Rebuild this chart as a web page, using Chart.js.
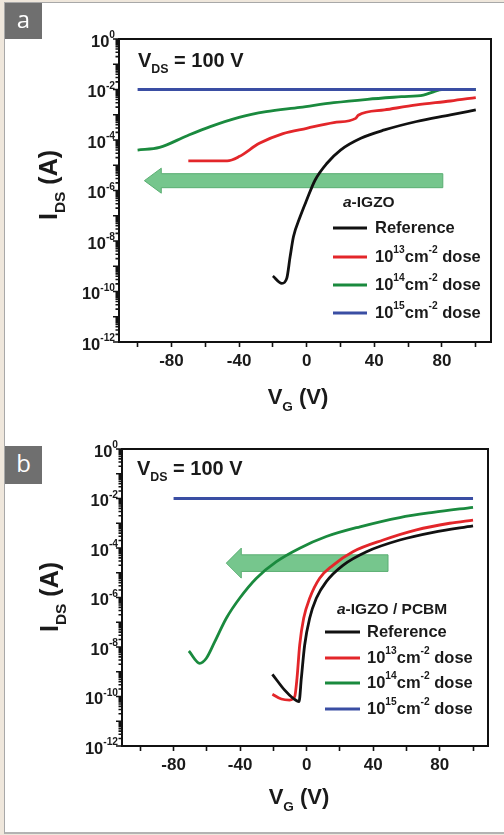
<!DOCTYPE html>
<html>
<head>
<meta charset="utf-8">
<script src="https://cdn.jsdelivr.net/npm/chart.js@4.4.0/dist/chart.umd.min.js"></script>
<style>
  html, body { margin: 0; padding: 0; }
  body { width: 504px; height: 835px; background: #efe7dc; position: relative; overflow: hidden; }
  .card { position: absolute; left: 4px; top: 2px; width: 520px; height: 829px; background: #fff;
          border-top: 1px solid #a8a8a8; border-left: 1px solid #a8a8a8; border-bottom: 2px solid #b3b3b3; }
  .tag { position: absolute; left: 5px; width: 37px; background: #6f6f6f; color: #fff; z-index: 5;
         font-family: "Open Sans", sans-serif; font-size: 24px; text-align: center; }
  canvas { position: absolute; left: 0; }
</style>
</head>
<body>
<div class="card"></div>
<canvas id="panelA" width="504" height="415" style="top:0px"></canvas>
<canvas id="panelB" width="504" height="420" style="top:415px"></canvas>
<div class="tag" style="top:3px;height:36px;line-height:32px;">a</div>
<div class="tag" style="top:446px;height:38px;line-height:34px;">b</div>
<script>
// axis ticks
const vgTickValues = [-100, -80, -60, -40, -20, 0, 20, 40, 60, 80, 100];
const vgLabelled = [-80, -40, 0, 40, 80];
const idsLabelExps = [0, -2, -4, -6, -8, -10, -12];
const doseExps = ['13', '14', '15'];

// panel a : a-IGZO
const aRefVg = [-20, -14.7, -11.8, -9.8, -7.8, -3.9, 0, 5, 12, 20, 32, 46, 65, 85, 100];
const aRefIds = [4.1e-10, 2.1e-10, 3.3e-10, 2.4e-9, 1.5e-8, 9.1e-8, 4.2e-7, 2.6e-6, 1.2e-5, 4.0e-5, 1.17e-4, 2.5e-4, 5.4e-4, 9.8e-4, 1.55e-3];
const aD13Vg = [-70, -47, -40, -28, -14, 0, 16, 29, 30.5, 46, 65, 85, 100];
const aD13Ids = [1.5e-5, 1.5e-5, 2.2e-5, 7.4e-5, 1.8e-4, 2.9e-4, 4.9e-4, 7.2e-4, 9.5e-4, 1.55e-3, 2.45e-3, 3.5e-3, 4.8e-3];
const aD14Vg = [-100, -87, -71, -57, -40, -24, -4, 16, 36, 56, 69, 75, 80, 100];
const aD14Ids = [4.0e-5, 5.1e-5, 1.45e-4, 3.4e-4, 7.9e-4, 1.32e-3, 1.95e-3, 3.0e-3, 4.1e-3, 5.2e-3, 6.0e-3, 8.1e-3, 1.0e-2, 1.0e-2];
const aD15Vg = [-100, 100];
const aD15Ids = [1e-2, 1e-2];

// panel b : a-IGZO / PCBM
const bRefVg = [-20.6, -13.2, -8.2, -4.6, -3.2, -1.2, 1.8, 5.8, 11.8, 21.8, 36, 56, 76, 100];
const bRefIds = [7.9e-10, 1.8e-10, 8.5e-11, 6.2e-11, 5.5e-10, 1.2e-8, 1.45e-7, 9.3e-7, 4.4e-6, 2.0e-5, 7.1e-5, 2.1e-4, 4.3e-4, 7.8e-4];
const bD13Vg = [-20.6, -15.2, -10.2, -7.2, -5.8, -4.2, -1.8, 1.8, 7.8, 15.8, 27.8, 46, 66, 86, 100];
const bD13Ids = [1.23e-10, 7.9e-11, 7.2e-11, 9.8e-11, 5.5e-10, 1.2e-8, 1.45e-7, 9.3e-7, 6.0e-6, 2.0e-5, 7.1e-5, 2.1e-4, 5.4e-4, 1.0e-3, 1.35e-3];
const bD14Vg = [-70.8, -64.3, -60.3, -55.3, -48.3, -40.3, -30.2, -18.2, -4.2, 11.8, 32, 56, 76, 100];
const bD14Ids = [6.9e-9, 2.2e-9, 3.5e-9, 1.6e-8, 1.45e-7, 9.3e-7, 6.0e-6, 2.8e-5, 9.8e-5, 2.9e-4, 7.2e-4, 1.7e-3, 2.75e-3, 4.4e-3];
const bD15Vg = [-80, 100];
const bD15Ids = [1e-2, 1e-2];

const FONT = '"Liberation Sans", Arial, sans-serif';
const INK = '#1a1a1a';
const colors = ['#111111', '#e3262a', '#1a8a3e', '#3a4ea3'];

function pts(xs, ys) {
  return xs.map((x, i) => ({ x: x, y: ys[i] }));
}

// text with super/subscripts, y is the middle of the main text
function drawRich(ctx, x, y, segs, size, measureOnly) {
  let cx = x;
  segs.forEach(s => {
    const small = s.sup || s.sub;
    const fs = small ? size * 0.62 : size;
    ctx.font = (s.italic ? 'italic ' : '') + 'bold ' + fs + 'px ' + FONT;
    const dy = s.sup ? -size * 0.4 : s.sub ? size * 0.42 : 0;
    if (!measureOnly) ctx.fillText(s.t, cx, y + dy);
    cx += ctx.measureText(s.t).width;
  });
  return cx - x;
}

function decor(o) {
  return {
    id: 'decor',
    beforeDatasetsDraw(chart) {
      const { ctx, scales: { x, y } } = chart;
      const a = o.arrow;
      const xt = x.getPixelForValue(a.tip), xn = x.getPixelForValue(a.neck), xe = x.getPixelForValue(a.tail);
      const yc = y.getPixelForValue(a.level);
      ctx.save();
      ctx.beginPath();
      ctx.moveTo(xt, yc);
      ctx.lineTo(xn, yc - a.head);
      ctx.lineTo(xn, yc - a.body);
      ctx.lineTo(xe, yc - a.body);
      ctx.lineTo(xe, yc + a.body);
      ctx.lineTo(xn, yc + a.body);
      ctx.lineTo(xn, yc + a.head);
      ctx.closePath();
      ctx.fillStyle = '#76c68d';
      ctx.fill();
      ctx.strokeStyle = '#5aae72';
      ctx.lineWidth = 1;
      ctx.stroke();
      ctx.restore();
    },
    afterDraw(chart) {
      const { ctx, chartArea: ca, scales: { y } } = chart;
      ctx.save();
      ctx.strokeStyle = '#111';
      ctx.lineWidth = 2;
      ctx.strokeRect(ca.left, ca.top, ca.right - ca.left, ca.bottom - ca.top);

      // log ticks on the left axis
      ctx.lineWidth = 1.6;
      ctx.beginPath();
      for (let e = 0; e >= -12; e--) {
        const py = y.getPixelForValue(Math.pow(10, e));
        ctx.moveTo(ca.left - 6, py); ctx.lineTo(ca.left, py);
        if (e > -12) {
          for (let m = 2; m < 10; m++) {
            const pm = y.getPixelForValue(m * Math.pow(10, e - 1));
            ctx.moveTo(ca.left - 3.5, pm); ctx.lineTo(ca.left, pm);
          }
        }
      }
      ctx.stroke();

      ctx.fillStyle = INK;
      ctx.textBaseline = 'middle';
      ctx.textAlign = 'left';
      idsLabelExps.forEach(e => {
        const py = y.getPixelForValue(Math.pow(10, e)) + 3;
        const segs = [{ t: '10' }, { t: String(e), sup: true }];
        const w = drawRich(ctx, 0, 0, segs, 16.5, true);
        drawRich(ctx, ca.left - 4 - w, py, segs, 16.5);
      });

      // axis titles
      const xt = [{ t: 'V' }, { t: 'G', sub: true }, { t: ' (V)' }];
      const xw = drawRich(ctx, 0, 0, xt, 22, true);
      drawRich(ctx, o.xTitle.x - xw / 2, o.xTitle.y, xt, 22);

      const yt = [{ t: 'I' }, { t: 'DS', sub: true }, { t: ' (A)' }];
      const yw = drawRich(ctx, 0, 0, yt, 25, true);
      ctx.save();
      ctx.translate(o.yTitle.x, o.yTitle.y);
      ctx.rotate(-Math.PI / 2);
      drawRich(ctx, -yw / 2, 0, yt, 25);
      ctx.restore();

      drawRich(ctx, o.vds.x, o.vds.y, [{ t: 'V' }, { t: 'DS', sub: true }, { t: ' = 100 V' }], 20);

      // legend
      const L = o.legend;
      drawRich(ctx, L.titleX, L.titleY, L.title, 15.5);
      chart.data.datasets.forEach((ds, i) => {
        const ry = L.rows[i];
        ctx.strokeStyle = ds.borderColor;
        ctx.lineWidth = 3;
        ctx.beginPath();
        ctx.moveTo(L.x0, ry); ctx.lineTo(L.x1, ry);
        ctx.stroke();
        drawRich(ctx, L.textX, ry, ds.legendSegs, 16.5);
      });
      ctx.restore();
    }
  };
}

function legendSegs(i) {
  if (i === 0) return [{ t: 'Reference' }];
  return [{ t: '10' }, { t: doseExps[i - 1], sup: true }, { t: 'cm' }, { t: '-2', sup: true }, { t: ' dose' }];
}

function makePanel(id, series, o) {
  const names = ['Reference', '10^13 cm^-2 dose', '10^14 cm^-2 dose', '10^15 cm^-2 dose'];
  return new Chart(document.getElementById(id), {
    type: 'line',
    data: {
      datasets: series.map((s, i) => ({
        label: names[i],
        legendSegs: legendSegs(i),
        data: pts(s[0], s[1]),
        borderColor: colors[i],
        borderWidth: 2.8,
        pointRadius: 0,
        fill: false,
        cubicInterpolationMode: 'monotone',
        order: i === 3 ? -1 : i
      }))
    },
    options: {
      responsive: false,
      animation: false,
      layout: { padding: o.pad },
      plugins: { legend: { display: false }, tooltip: { enabled: false } },
      scales: {
        x: {
          type: 'linear', min: -111, max: 109,
          afterBuildTicks: s => { s.ticks = vgTickValues.map(v => ({ value: v })); },
          afterFit: s => { s.height = o.xAxisH; },
          grid: { drawOnChartArea: false, drawTicks: true, tickLength: 5, tickWidth: 1.6, tickColor: '#111' },
          border: { display: true, color: '#111', width: 2 },
          ticks: {
            autoSkip: false, maxRotation: 0, padding: 4, color: INK,
            font: { family: FONT, size: 17, weight: 'bold' },
            callback: v => vgLabelled.includes(v) ? String(v) : ''
          }
        },
        y: { type: 'logarithmic', min: 1e-12, max: 1, display: false }
      }
    },
    plugins: [decor(o)]
  });
}

makePanel('panelA',
  [[aRefVg, aRefIds], [aD13Vg, aD13Ids], [aD14Vg, aD14Ids], [aD15Vg, aD15Ids]],
  {
    pad: { left: 119, right: 13, top: 39, bottom: 0 }, xAxisH: 73,
    arrow: { tip: -96, neck: -86, tail: 80.5, level: 2.45e-6, head: 12.5, body: 7 },
    xTitle: { x: 298, y: 398 }, yTitle: { x: 50, y: 185 }, vds: { x: 138, y: 61 },
    legend: { title: [{ t: 'a', italic: true }, { t: '-IGZO' }], titleX: 343, titleY: 203,
              x0: 333, x1: 367, textX: 375, rows: [228, 257, 285, 313] }
  });

makePanel('panelB',
  [[bRefVg, bRefIds], [bD13Vg, bD13Ids], [bD14Vg, bD14Ids], [bD15Vg, bD15Ids]],
  {
    pad: { left: 122, right: 16, top: 34, bottom: 0 }, xAxisH: 89,
    arrow: { tip: -48.3, neck: -39.3, tail: 48.9, level: 2.45e-5, head: 15, body: 8.3 },
    xTitle: { x: 299, y: 383 }, yTitle: { x: 51, y: 182 }, vds: { x: 137, y: 54 },
    legend: { title: [{ t: 'a', italic: true }, { t: '-IGZO / PCBM' }], titleX: 337, titleY: 195,
              x0: 325, x1: 360, textX: 367, rows: [217, 243, 268, 294] }
  });
</script>
</body>
</html>
